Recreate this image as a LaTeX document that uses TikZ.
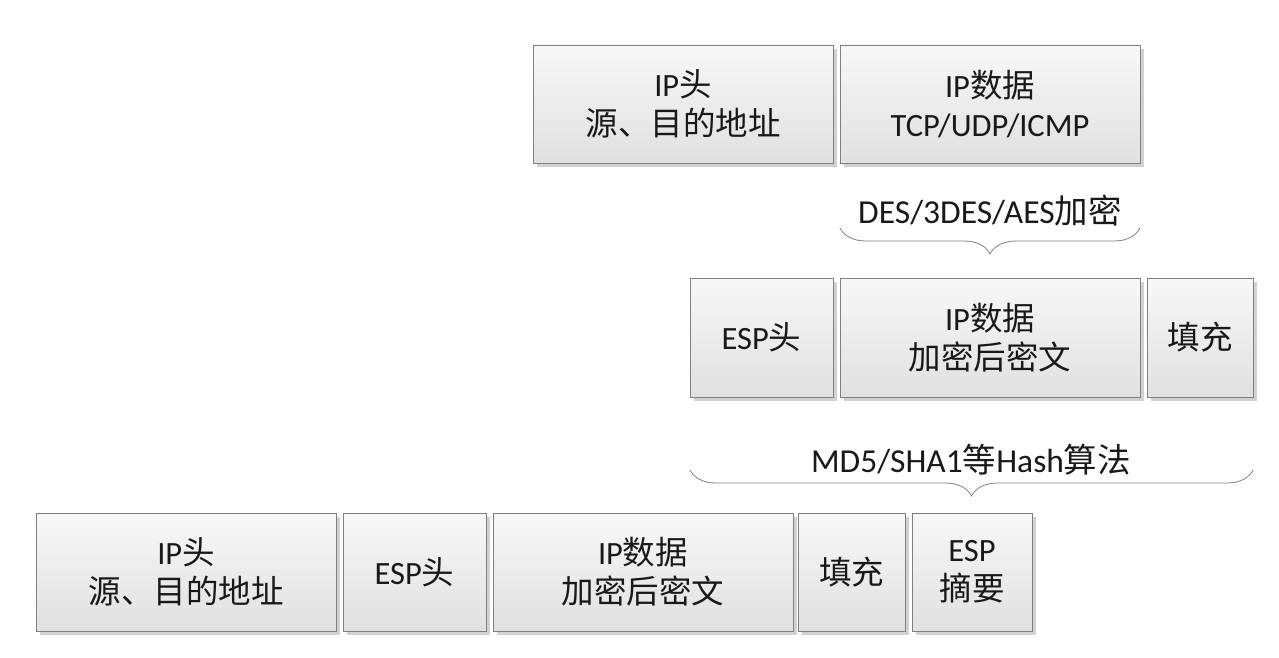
\documentclass[tikz,border=0pt]{standalone}
\usepackage{fontspec}
\setmainfont{Carlito}
\newfontfamily\cjk{Noto Sans CJK SC}
\usetikzlibrary{shadows,decorations.pathreplacing}
\tikzset{
  pkt/.style={draw=black!50, line width=0.8pt, top color=white!97!black, bottom color=black!12,
    drop shadow={shadow xshift=4pt, shadow yshift=-4pt, fill=black!30, opacity=0.6},
    inner sep=0pt, outer sep=0pt, align=center, text=black!90,
    font=\fontsize{32.5}{39}\selectfont},
  lbl/.style={inner sep=0pt, text=black!90, font=\fontsize{33.5}{39}\selectfont},
  brc/.style={draw=black!50, line width=0.8pt, decorate, decoration={brace, mirror, amplitude=26pt}}
}
\begin{document}
\begin{tikzpicture}[x=1pt, y=-1pt]
\useasboundingbox (0,0) rectangle (1279,658);
% row 1
\node[pkt, minimum width=300pt, minimum height=118pt] (iph1) at (683,104) {IP{\cjk 头}\\{\cjk 源、目的地址}};
\node[pkt, minimum width=300pt, minimum height=118pt] (ipd1) at (990,104) {IP{\cjk 数据}\\TCP/UDP/ICMP};
% brace 1
\node[lbl] (enc) at (990,211) {DES/3DES/AES{\cjk 加密}};
\draw[brc] (840,228) -- (1140,228);
% row 2
\node[pkt, minimum width=143pt, minimum height=119pt] (esp2) at (761.5,337.5) {ESP{\cjk 头}};
\node[pkt, minimum width=300pt, minimum height=119pt] (ipd2) at (990,337.5) {IP{\cjk 数据}\\{\cjk 加密后密文}};
\node[pkt, minimum width=106pt, minimum height=119pt] (pad2) at (1200,337.5) {{\cjk 填充}};
% brace 2
\node[lbl] (hash) at (971,460) {MD5/SHA1{\cjk 等}Hash{\cjk 算法}};
\draw[brc] (690,470) -- (1253,470);
% row 3
\node[pkt, minimum width=300pt, minimum height=118pt] (iph3) at (186,572) {IP{\cjk 头}\\{\cjk 源、目的地址}};
\node[pkt, minimum width=143pt, minimum height=118pt] (esp3) at (414.5,572) {ESP{\cjk 头}};
\node[pkt, minimum width=300pt, minimum height=118pt] (ipd3) at (643,572) {IP{\cjk 数据}\\{\cjk 加密后密文}};
\node[pkt, minimum width=107pt, minimum height=118pt] (pad3) at (851.5,572) {{\cjk 填充}};
\node[pkt, minimum width=120pt, minimum height=118pt] (dig3) at (972,572) {ESP\\{\cjk 摘要}};
\end{tikzpicture}
\end{document}
